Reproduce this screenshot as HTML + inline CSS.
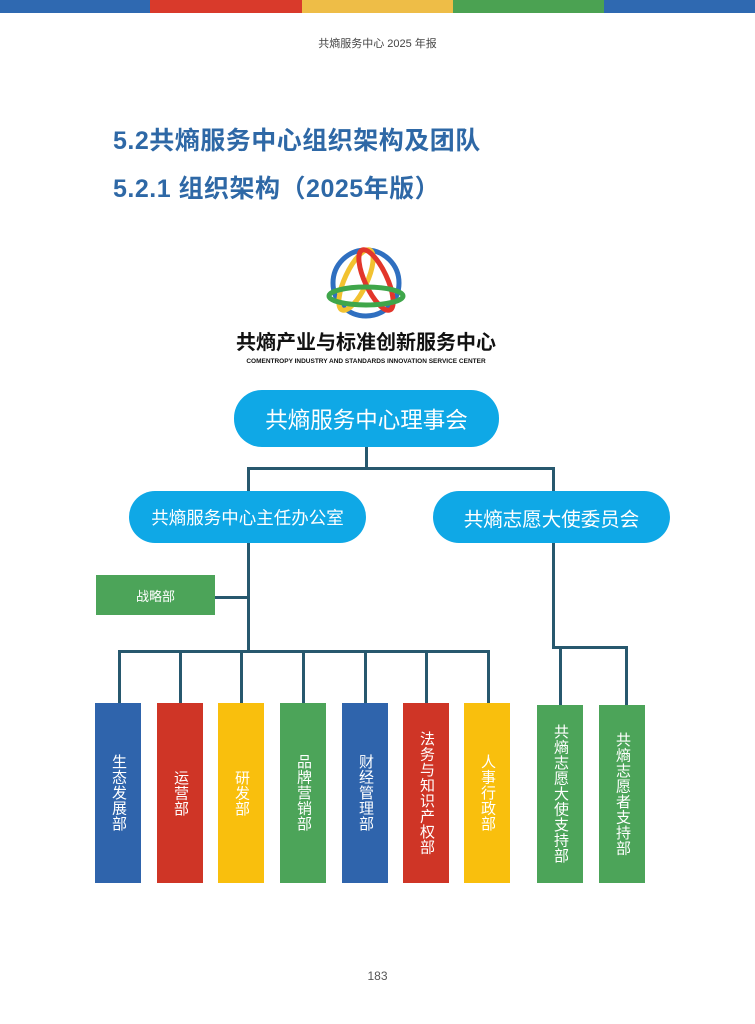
<!DOCTYPE html>
<html><head><meta charset="utf-8"><style>
*{margin:0;padding:0;box-sizing:border-box}
body{width:755px;height:1024px;background:#fff;position:relative;overflow:hidden;font-family:"Liberation Sans","Noto Sans CJK SC",sans-serif}
.a{position:absolute}
.pill{position:absolute;background:#0fa8e6;color:#fff;border-radius:28px;display:flex;align-items:center;justify-content:center}
.ln{position:absolute;background:#27586e}
.bar{position:absolute;top:703px;width:46px;height:180px;color:#fff;font-size:15px;line-height:18px;writing-mode:vertical-rl;display:flex;align-items:center;justify-content:center;text-align:center;letter-spacing:0.5px}
</style></head><body>
<div class="a" style="left:0;top:0;width:150px;height:13px;background:#2f69b1"></div>
<div class="a" style="left:150px;top:0;width:152px;height:13px;background:#d93a2b"></div>
<div class="a" style="left:302px;top:0;width:151px;height:13px;background:#eebd47"></div>
<div class="a" style="left:453px;top:0;width:151px;height:13px;background:#4ba252"></div>
<div class="a" style="left:604px;top:0;width:151px;height:13px;background:#2f69b1"></div>
<div class="a" style="left:0;top:35px;width:755px;text-align:center;font-size:11px;color:#444">共熵服务中心 2025 年报</div>
<div class="a" style="left:113px;top:121px;font-size:25px;font-weight:bold;color:#2e68a6;letter-spacing:0.5px">5.2共熵服务中心组织架构及团队</div>
<div class="a" style="left:113px;top:169px;font-size:25px;font-weight:bold;color:#2e68a6;letter-spacing:0.5px">5.2.1 组织架构（2025年版）</div>
<svg class="a" style="left:320px;top:242px" width="92" height="80" viewBox="0 0 92 80">
<circle cx="46" cy="41" r="33" fill="none" stroke="#2f6fc0" stroke-width="5"/>
<ellipse cx="36" cy="38" rx="11" ry="33" transform="rotate(25 36 38)" fill="none" stroke="#f2c230" stroke-width="5"/>
<ellipse cx="56" cy="38" rx="11" ry="33" transform="rotate(-25 56 38)" fill="none" stroke="#e2362b" stroke-width="5"/>
<ellipse cx="46" cy="54" rx="37" ry="9" fill="none" stroke="#3fa64a" stroke-width="5"/>
</svg>
<div class="a" style="left:226px;top:331px;width:280px;text-align:center;font-size:20px;line-height:24px;font-weight:bold;color:#111">共熵产业与标准创新服务中心</div>
<div class="a" style="left:226px;top:358px;width:280px;text-align:center;font-size:6.5px;line-height:8px;font-weight:bold;color:#111;white-space:nowrap">COMENTROPY INDUSTRY AND STANDARDS INNOVATION SERVICE CENTER</div>
<div class="pill" style="left:234px;top:390px;width:265px;height:57px;font-size:22.5px">共熵服务中心理事会</div>
<div class="pill" style="left:129px;top:491px;width:237px;height:52px;font-size:17.5px">共熵服务中心主任办公室</div>
<div class="pill" style="left:433px;top:491px;width:237px;height:52px;font-size:19.5px">共熵志愿大使委员会</div>
<div class="ln" style="left:365px;top:447px;width:3px;height:22px"></div>
<div class="ln" style="left:247px;top:467px;width:308px;height:3px"></div>
<div class="ln" style="left:247px;top:467px;width:3px;height:24px"></div>
<div class="ln" style="left:552px;top:467px;width:3px;height:24px"></div>
<div class="ln" style="left:247px;top:543px;width:3px;height:110px"></div>
<div class="ln" style="left:215px;top:596px;width:34px;height:3px"></div>
<div class="a" style="left:96px;top:575px;width:119px;height:40px;background:#4ca459;color:#fff;font-size:13px;display:flex;align-items:center;justify-content:center">战略部</div>
<div class="ln" style="left:118px;top:650px;width:372px;height:3px"></div>
<div class="ln" style="left:118px;top:650px;width:3px;height:53px"></div>
<div class="ln" style="left:179px;top:650px;width:3px;height:53px"></div>
<div class="ln" style="left:240px;top:650px;width:3px;height:53px"></div>
<div class="ln" style="left:302px;top:650px;width:3px;height:53px"></div>
<div class="ln" style="left:364px;top:650px;width:3px;height:53px"></div>
<div class="ln" style="left:425px;top:650px;width:3px;height:53px"></div>
<div class="ln" style="left:487px;top:650px;width:3px;height:53px"></div>
<div class="ln" style="left:552px;top:543px;width:3px;height:106px"></div>
<div class="ln" style="left:552px;top:646px;width:76px;height:3px"></div>
<div class="ln" style="left:559px;top:646px;width:3px;height:59px"></div>
<div class="ln" style="left:625px;top:646px;width:3px;height:59px"></div>
<div class="bar" style="left:95px;background:#2f64ac">生态发展部</div>
<div class="bar" style="left:157px;background:#cf3526">运营部</div>
<div class="bar" style="left:218px;background:#f9bf0d">研发部</div>
<div class="bar" style="left:280px;background:#4ca459">品牌营销部</div>
<div class="bar" style="left:342px;background:#2f64ac">财经管理部</div>
<div class="bar" style="left:403px;background:#cf3526">法务与知识产权部</div>
<div class="bar" style="left:464px;background:#f9bf0d">人事行政部</div>
<div class="bar" style="left:537px;top:705px;height:178px;background:#4ca459">共熵志愿大使支持部</div>
<div class="bar" style="left:599px;top:705px;height:178px;background:#4ca459">共熵志愿者支持部</div>
<div class="a" style="left:0;top:969px;width:755px;text-align:center;font-size:12px;color:#555">183</div>
</body></html>
